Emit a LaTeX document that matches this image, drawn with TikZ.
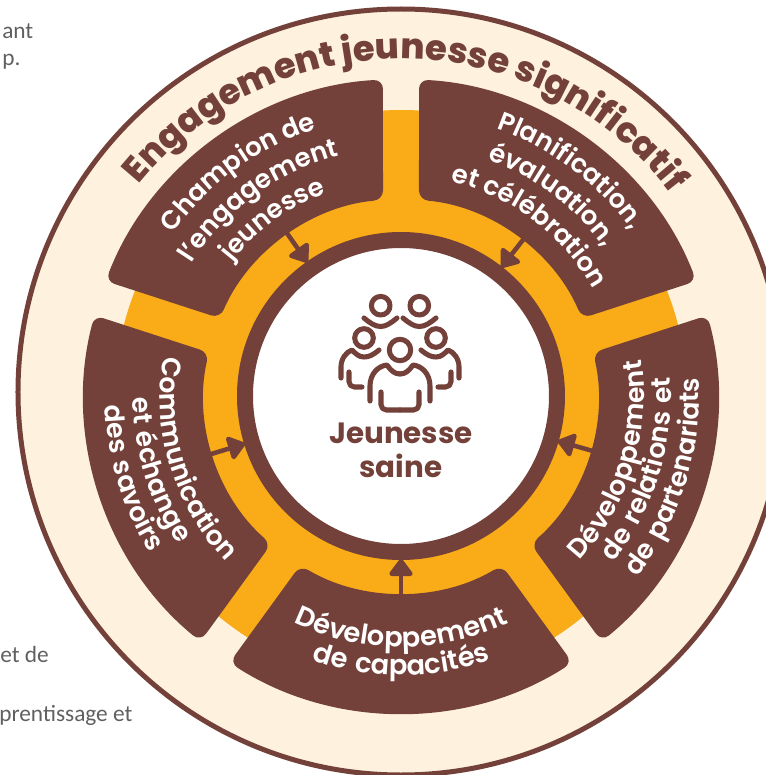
\documentclass[tikz,border=0pt]{standalone}
\usepackage{fontspec}
\usetikzlibrary{arrows.meta,decorations.text}
\setmainfont{Poppins}
\newfontfamily\titlefont{Poppins ExtraBold}
\newfontfamily\bandfamily{Poppins SemiBold}
\newfontfamily\lowfamily{Poppins SemiBold}[LetterSpace=8]
\newfontfamily\notefont{Carlito}
\definecolor{brun}{HTML}{73413A}
\definecolor{orange}{HTML}{FAAB18}
\definecolor{creme}{HTML}{FEF2DF}
\definecolor{gris}{HTML}{606060}
% text bulging outwards (top sectors), then text read from the inside (lower sectors)
\newcommand{\toplabel}[3]{\path[decorate,decoration={text along path,text align=center,text={|\bandfamily\fontsize{19.5}{19.5}\selectfont\color{white}|#3}}]
	(#2+70:#1) arc[start angle=#2+70,end angle=#2-70,radius=#1];}
\newcommand{\lowlabel}[4][20]{\path[decorate,decoration={text along path,text align=center,text={|\lowfamily\fontsize{#1}{#1}\selectfont\color{white}|#4}}]
	(#3-70:#2) arc[start angle=#3-70,end angle=#3+70,radius=#2];}
\tikzset{
	band/.style={fill=brun,rounded corners=7pt},
	flow/.style={draw=brun,line width=3.4pt,-{Triangle[round,length=14pt,width=20pt]}},
	person/.style={draw=brun,line width=3.8pt,line cap=round,line join=round},
	note/.style={font=\notefont\fontsize{17.5}{17.5}\selectfont,text=gris,anchor=base west,inner sep=0pt}
}

\begin{document}
\begin{tikzpicture}[x=0.75pt,y=0.75pt]
	\useasboundingbox (-401,-379) rectangle (365,396);
	\clip (-401,-379) rectangle (365,396);
	\node[note] (noteA) at (-399,357) {ant};
	\node[note] (noteB) at (-399,330) {p.};
	\node[note] (noteC) at (-401,-266) {et de};
	\node[note] (noteD) at (-402,-325) {prentissage et};
	\draw[brun,line width=3.75pt,fill=creme] (0,4) circle (383);
	\fill[orange] (0,0) circle (286);
	\foreach \a in {126,54,-18,-90,-162}
		\fill[band] (\a+32.74:317) arc[start angle=\a+32.74,end angle=\a-32.74,radius=317]
			-- (\a-30.76:197) arc[start angle=\a-30.76,end angle=\a+30.76,radius=197] -- cycle;
	\draw[brun,line width=12pt,fill=white] (0,0) circle (156);
	\foreach \a [count=\i] in {125,52,-16,-90,197} {
		\coordinate (from\i) at (\a:200);
		\coordinate (to\i) at (\a:163);
		\draw[flow] (from\i) -- (to\i);
	}
	\path[decorate,decoration={text along path,text align=center,
		text={|\titlefont\fontsize{26.5}{26.5}\selectfont\color{brun}|Engagement jeunesse significatif}}]
		(160:337) arc[start angle=160,end angle=18,radius=337];
	\toplabel{280}{126}{Champion de}
	\toplabel{248}{126}{l’engagement}
	\toplabel{216}{126}{jeunesse}
	\toplabel{284}{53}{Planification,}
	\toplabel{252}{53}{évaluation,}
	\toplabel{220}{53}{et célébration}
	\lowlabel{243}{-17}{Développement}
	\lowlabel{270}{-17}{de relations et}
	\lowlabel{298}{-17}{de partenariats}
	\lowlabel{241}{197}{Communication}
	\lowlabel{268}{197}{et échange}
	\lowlabel{296}{197}{des savoirs}
	\lowlabel[20.5]{251}{-90}{Développement}
	\lowlabel[20.5]{279}{-90}{de capacités}
	% the people in the middle
	\begin{scope}[shift={(-1,0)}]
		\draw[person] (0,46) circle (10.7);
		\foreach \s in {-1,1} {
			\begin{scope}[xscale=\s]
				\draw[person] (0,22) .. controls (5,22) and (9,25) .. (13,31)
					.. controls (22,30) and (30,22) .. (30,10) -- (30,-5);
				\draw[person,rounded corners=4pt] (19,4) -- (19,-14) -- (0,-14);
				\draw[person] (36,58) circle (9.3);
				\draw[person] (21,46) .. controls (27,41) and (31,39) .. (36,39)
					.. controls (41,39) and (44,42) .. (48,46)
					.. controls (54,44) and (59,37) .. (59,29) -- (59,18);
				\draw[person,rounded corners=4pt] (51,24) -- (51,9) -- (38,9);
				\draw[person] (19.3,90.3) circle (9.3);
				\draw[person] (3,78) .. controls (9,73) and (14,69.5) .. (19.3,69.5)
					.. controls (25,69.5) and (30,73) .. (36,78);
			\end{scope}
		}
	\end{scope}
	\node[font=\fontsize{22}{25}\selectfont\bfseries,text=brun,align=center,anchor=base] (jeunesse) at (0,-81) {Jeunesse\\saine};
\end{tikzpicture}
\end{document}
